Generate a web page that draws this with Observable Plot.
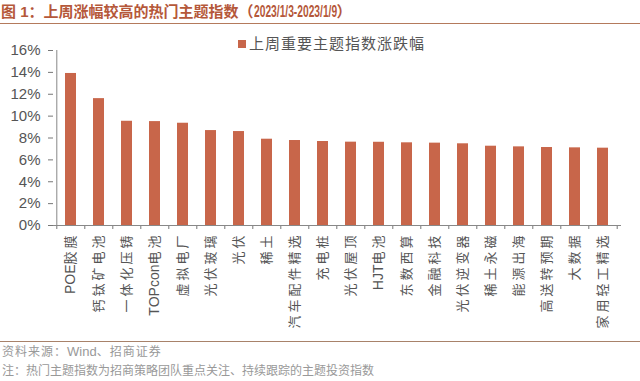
<!DOCTYPE html>
<html>
<head>
<meta charset="utf-8">
<script src="https://cdn.jsdelivr.net/npm/d3@7"></script>
<script src="https://cdn.jsdelivr.net/npm/@observablehq/plot@0.6"></script>
<style>
  html, body { margin: 0; padding: 0; background: #fff; }
  #wrap { position: relative; width: 640px; height: 381px; overflow: hidden; font-family: "Liberation Sans", "Noto Sans CJK SC", sans-serif; }
  #title { position: absolute; left: 1px; top: 3px; font-size: 15px; font-weight: bold; color: #B5583A; white-space: nowrap; line-height: 18px; }
  #title .date { display: inline-block; font-size: 16px; transform: scaleX(0.64); transform-origin: left center; margin-right: -47px; }
  #tline { position: absolute; left: 0; top: 23px; width: 640px; height: 0; border-top: 1.5px solid #B47A5C; }
  #legend { position: absolute; left: 238px; top: 34px; font-size: 15px; color: #555; letter-spacing: 1px; white-space: nowrap; line-height: 18px; font-family: "Noto Sans CJK SC", sans-serif; }
  #legend .sw { display: inline-block; width: 8px; height: 8px; background: #C8664A; margin-right: 3px; vertical-align: 1px; }
  #chart { position: absolute; left: 0; top: 30px; }
  #fline { position: absolute; left: 0; top: 341px; width: 640px; height: 0; border-top: 1px solid #A8826A; }
  .foot { position: absolute; left: 2px; font-size: 12px; color: #999; white-space: nowrap; line-height: 14px; font-family: "Liberation Sans", "Noto Sans CJK SC", sans-serif; }
  #f1 { top: 345px; letter-spacing: 1px; }
  #f1 .lat { letter-spacing: 0; font-size: 13px; }
  #f2 { top: 364px; }
  [aria-label="x-axis tick label"] text { letter-spacing: 3px; }
  [aria-label="x-axis tick label"] tspan.lat { letter-spacing: 0; font-size: 14px; }
</style>
</head>
<body>
<div id="wrap">
  <div id="title">图 1：上周涨幅较高的热门主题指数（<span class="date">2023/1/3-2023/1/9</span>）</div>
  <div id="tline"></div>
  <div id="legend"><span class="sw"></span>上周重要主题指数涨跌幅</div>
  <div id="chart"></div>
  <div id="fline"></div>
  <div class="foot" id="f1">资料来源：<span class="lat">Wind</span>、招商证券</div>
  <div class="foot" id="f2">注：热门主题指数为招商策略团队重点关注、持续跟踪的主题投资指数</div>
</div>
<script>
const categories = ["POE胶膜", "钙钛矿电池", "一体化压铸", "TOPcon电池", "虚拟电厂", "光伏玻璃", "光伏", "稀土", "汽车配件精选", "充电桩", "光伏屋顶", "HJT电池", "东数西算", "金融科技", "光伏逆变器", "稀土永磁", "能源出海", "高送转预期", "大数据", "家用轻工精选"];
const values = [13.9, 11.6, 9.53, 9.5, 9.35, 8.68, 8.59, 7.89, 7.77, 7.68, 7.62, 7.61, 7.56, 7.53, 7.47, 7.25, 7.19, 7.13, 7.10, 7.07];
const yTicks = [0, 2, 4, 6, 8, 10, 12, 14, 16];

const data = categories.map((name, i) => ({name, value: values[i]}));

const W = 640, H = 310, mL = 53, mR = 19, mT = 20, mB = 115;
const step = (W - mL - mR) / categories.length;
const tickLen = 4 * 16 / (H - mT - mB);

const chart = Plot.plot({
  width: W, height: H,
  marginTop: mT, marginBottom: mB, marginLeft: mL, marginRight: mR,
  style: {fontFamily: '"Liberation Sans", "Noto Sans CJK SC", sans-serif', background: "transparent", color: "#555"},
  x: {domain: categories, paddingInner: 0.6, paddingOuter: 0.3},
  y: {domain: [0, 16]},
  marks: [
    Plot.barY(data, {x: "name", y: "value", fill: "#C8664A"}),
    Plot.ruleX(categories, {x: d => d, y1: 0, y2: -tickLen, dx: -step / 2, stroke: "#777"}),
    Plot.ruleX([categories[categories.length - 1]], {x: d => d, y1: 0, y2: -tickLen, dx: step / 2, stroke: "#777"}),
    Plot.ruleX([categories[0]], {x: d => d, y1: 0, y2: 16, dx: -step / 2, stroke: "#888"}),
    Plot.ruleY([0], {stroke: "#888"}),
    Plot.axisY({ticks: yTicks, tickFormat: d => d + "%", tickSize: 5, tickPadding: 8, fontSize: 15, stroke: "#777", fill: "#555", label: null}),
    Plot.axisX({tickSize: 0, tickRotate: -90, tickPadding: 7, fontSize: 13, fill: "#555", label: null})
  ]
});
document.getElementById("chart").appendChild(chart);

// Latin runs in tick labels: no extra letter spacing, slightly larger
d3.select(chart).selectAll('[aria-label="x-axis tick label"] text').each(function() {
  const t = d3.select(this);
  const s = t.text();
  if (!/[A-Za-z]/.test(s)) return;
  t.text(null);
  s.match(/[A-Za-z]+|[^A-Za-z]+/g).forEach(run => {
    t.append("tspan").attr("class", /[A-Za-z]/.test(run) ? "lat" : null).text(run);
  });
});
</script>
</body>
</html>
